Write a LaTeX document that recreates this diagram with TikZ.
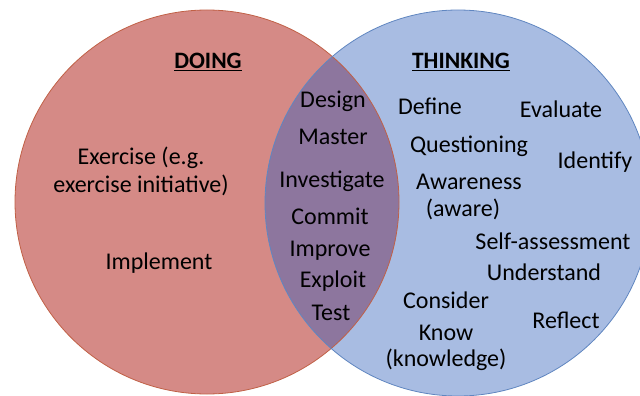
\documentclass[tikz,border=0pt]{standalone}
\usepackage{fontspec}
\setmainfont{Carlito}
\usepackage{tikz}
\definecolor{doingfill}{RGB}{213,138,134}
\definecolor{doingline}{RGB}{192,96,70}
\definecolor{thinkfill}{RGB}{168,188,226}
\definecolor{thinkline}{RGB}{96,134,192}
\definecolor{bothfill}{RGB}{141,118,158}
\begin{document}
\begin{tikzpicture}[
        x=1pt, y=-1pt,
        word/.style={inner sep=0pt, font=\fontsize{24}{28}\selectfont, align=center},
        head/.style={word, font=\fontsize{23.5}{28}\selectfont\bfseries}
    ]
        \useasboundingbox (0,0) rectangle (640,396);
        \fill[doingfill] (207,202) circle[radius=192pt];
        \fill[thinkfill] (458,203) circle[radius=193pt];
        \begin{scope}
            \clip (207,202) circle[radius=192pt];
            \fill[bothfill] (458,203) circle[radius=193pt];
        \end{scope}
        \draw[doingline, line width=0.8pt] (207,202) circle[radius=192pt];
        \draw[thinkline, line width=0.8pt] (458,203) circle[radius=193pt];

        \node[head] (doing) at (208,62) {\underline{DOING}};
        \node[head] (thinking) at (461,62) {\underline{THINKING}};

        \node[word] (exercise) at (141,171) {Exercise (e.g.\\exercise initiative)};
        \node[word] (implement) at (159,263) {Implement};

        \node[word] (design) at (333,101) {Design};
        \node[word] (master) at (333,137) {Master};
        \node[word] (investigate) at (332,181) {Investigate};
        \node[word] (commit) at (330,216) {Commit};
        \node[word] (improve) at (330,251) {Improve};
        \node[word] (exploit) at (333,281) {Exploit};
        \node[word] (test) at (331,313) {Test};

        \node[word] (define) at (430,106) {Define};
        \node[word] (evaluate) at (561,109) {Evaluate};
        \node[word] (questioning) at (469,146) {Questioning};
        \node[word] (identify) at (595,162) {Identify};
        \node[word] (awareness) at (469,182) {Awareness};
        \node[word] (aware) at (463,209) {(aware)};
        \node[word] (selfassess) at (553,241) {Self-assessment};
        \node[word] (understand) at (544,272) {Understand};
        \node[word] (consider) at (446,300) {Consider};
        \node[word] (reflect) at (566,320) {Reflect};
        \node[word] (know) at (446,333) {Know};
        \node[word] (knowledge) at (446,360) {(knowledge)};
    \end{tikzpicture}
\end{document}
